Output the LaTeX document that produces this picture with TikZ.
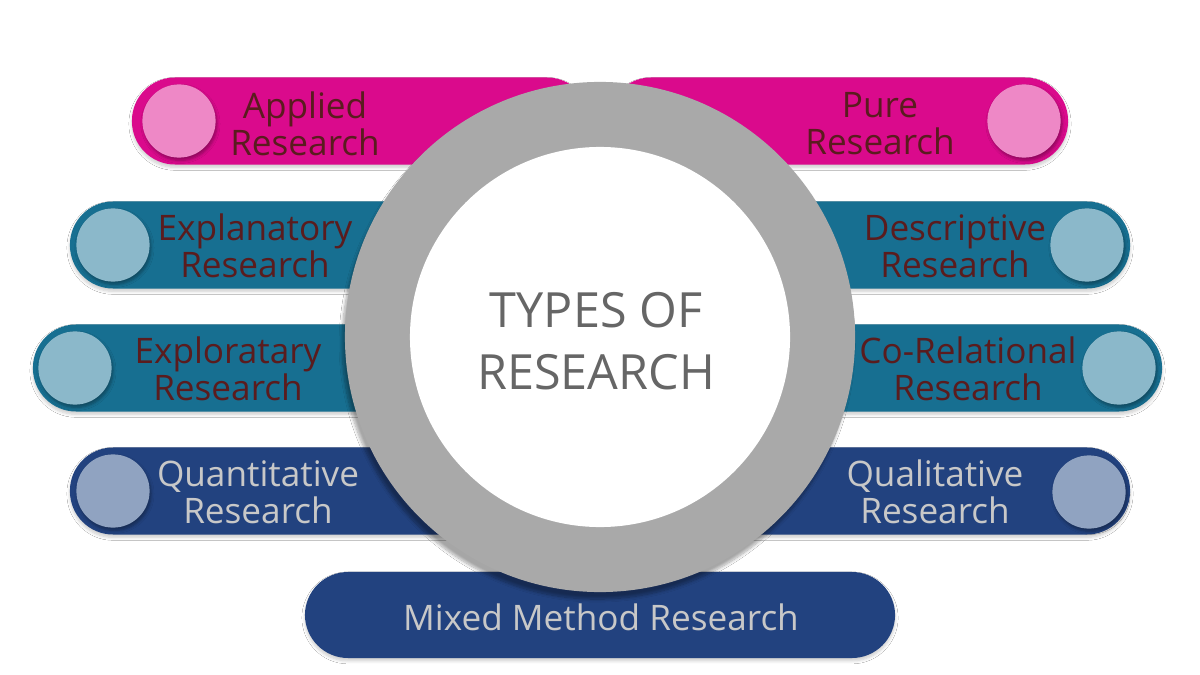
\documentclass[tikz,border=0pt]{standalone}
\usepackage{fontspec}
\setmainfont{Open Sans}
\usetikzlibrary{shadows,shadows.blur}
\definecolor{appColor}{HTML}{DA0A8C}
\definecolor{appDot}{HTML}{EE88C6}
\definecolor{expColor}{HTML}{176F91}
\definecolor{expDot}{HTML}{8BB8CA}
\definecolor{quaColor}{HTML}{22427F}
\definecolor{quaDot}{HTML}{90A3C1}
\definecolor{ringColor}{HTML}{A9A9A9}
\definecolor{darkText}{HTML}{5A1C1E}
\definecolor{lightText}{HTML}{C8C8C8}
\definecolor{hubText}{HTML}{666666}
\tikzset{
	pill/.style={rectangle, rounded corners=1.08cm, minimum height=2.175cm, inner sep=0, outer sep=0,
		blur shadow={shadow xshift=0pt, shadow yshift=-2pt, shadow blur steps=6, shadow opacity=20}},
	dot/.style={circle, minimum size=1.83cm, inner sep=0,
		blur shadow={shadow xshift=1pt, shadow yshift=-2pt, shadow blur steps=5, shadow opacity=35}},
	lab/.style={align=center, inner sep=0, font=\fontsize{25}{26.3}\selectfont},
}
\begin{document}
\begin{tikzpicture}[x=0.025cm, y=-0.025cm]
	\useasboundingbox[fill=white] (0,0) rectangle (1200,675);
	% left column
	\node[pill, fill=appColor, minimum width=11.45cm] (applied) at (361,121) {};
	\node[pill, fill=expColor, minimum width=12.25cm] (explan) at (315,245) {};
	\node[pill, fill=expColor, minimum width=13.175cm] (explor) at (296.5,368) {};
	\node[pill, fill=quaColor, minimum width=12.25cm] (quant) at (315,491) {};
	% right column
	\node[pill, fill=appColor, minimum width=11.5cm] (pure) at (838,121) {};
	\node[pill, fill=expColor, minimum width=12.25cm] (descr) at (885,245) {};
	\node[pill, fill=expColor, minimum width=13.05cm] (corel) at (901,368) {};
	\node[pill, fill=quaColor, minimum width=12.25cm] (qual) at (885,491) {};
	% bottom
	\node[pill, fill=quaColor, minimum width=14.75cm, minimum height=2.15cm] (mixed) at (600,615) {};
	% dots
	\node[dot, fill=appDot] (applied_dot) at (179,121) {};
	\node[dot, fill=expDot] (explan_dot) at (113,245) {};
	\node[dot, fill=expDot] (explor_dot) at (75,368) {};
	\node[dot, fill=quaDot] (quant_dot) at (113,491) {};
	\node[dot, fill=appDot] (pure_dot) at (1024,121) {};
	\node[dot, fill=expDot] (descr_dot) at (1087,245) {};
	\node[dot, fill=expDot] (corel_dot) at (1119,368) {};
	\node[dot, fill=quaDot] (qual_dot) at (1089,492) {};
	% labels
	\node[lab, text=darkText] (applied_t) at (305,124) {Applied\\Research};
	\node[lab, text=darkText] (explan_t) at (255,246) {Explanatory\\Research};
	\node[lab, text=darkText] (explor_t) at (228,369) {Exploratary\\Research};
	\node[lab, text=lightText] (quant_t) at (258,492) {Quantitative\\Research};
	\node[lab, text=darkText] (pure_t) at (880,124) {Pure\\Research};
	\node[lab, text=darkText] (descr_t) at (955,246) {Descriptive\\Research};
	\node[lab, text=darkText] (corel_t) at (968,369) {Co-Relational\\Research};
	\node[lab, text=lightText] (qual_t) at (935,492) {Qualitative\\Research};
	\node[lab, text=lightText] (mixed_t) at (601,617) {Mixed Method Research};
	% hub
	\node[circle, fill=ringColor, minimum size=12.75cm, inner sep=0,
		blur shadow={shadow xshift=-2pt, shadow yshift=-5pt, shadow blur steps=10, shadow opacity=35}] (ring) at (600,337) {};
	\node[circle, fill=white, minimum size=9.5cm, inner sep=0] (hub) at (ring) {};
	\node[align=center, text=hubText, font=\fontsize{34.5}{44}\selectfont] (hub_t) at (596,341) {TYPES OF\\RESEARCH};
\end{tikzpicture}
\end{document}
